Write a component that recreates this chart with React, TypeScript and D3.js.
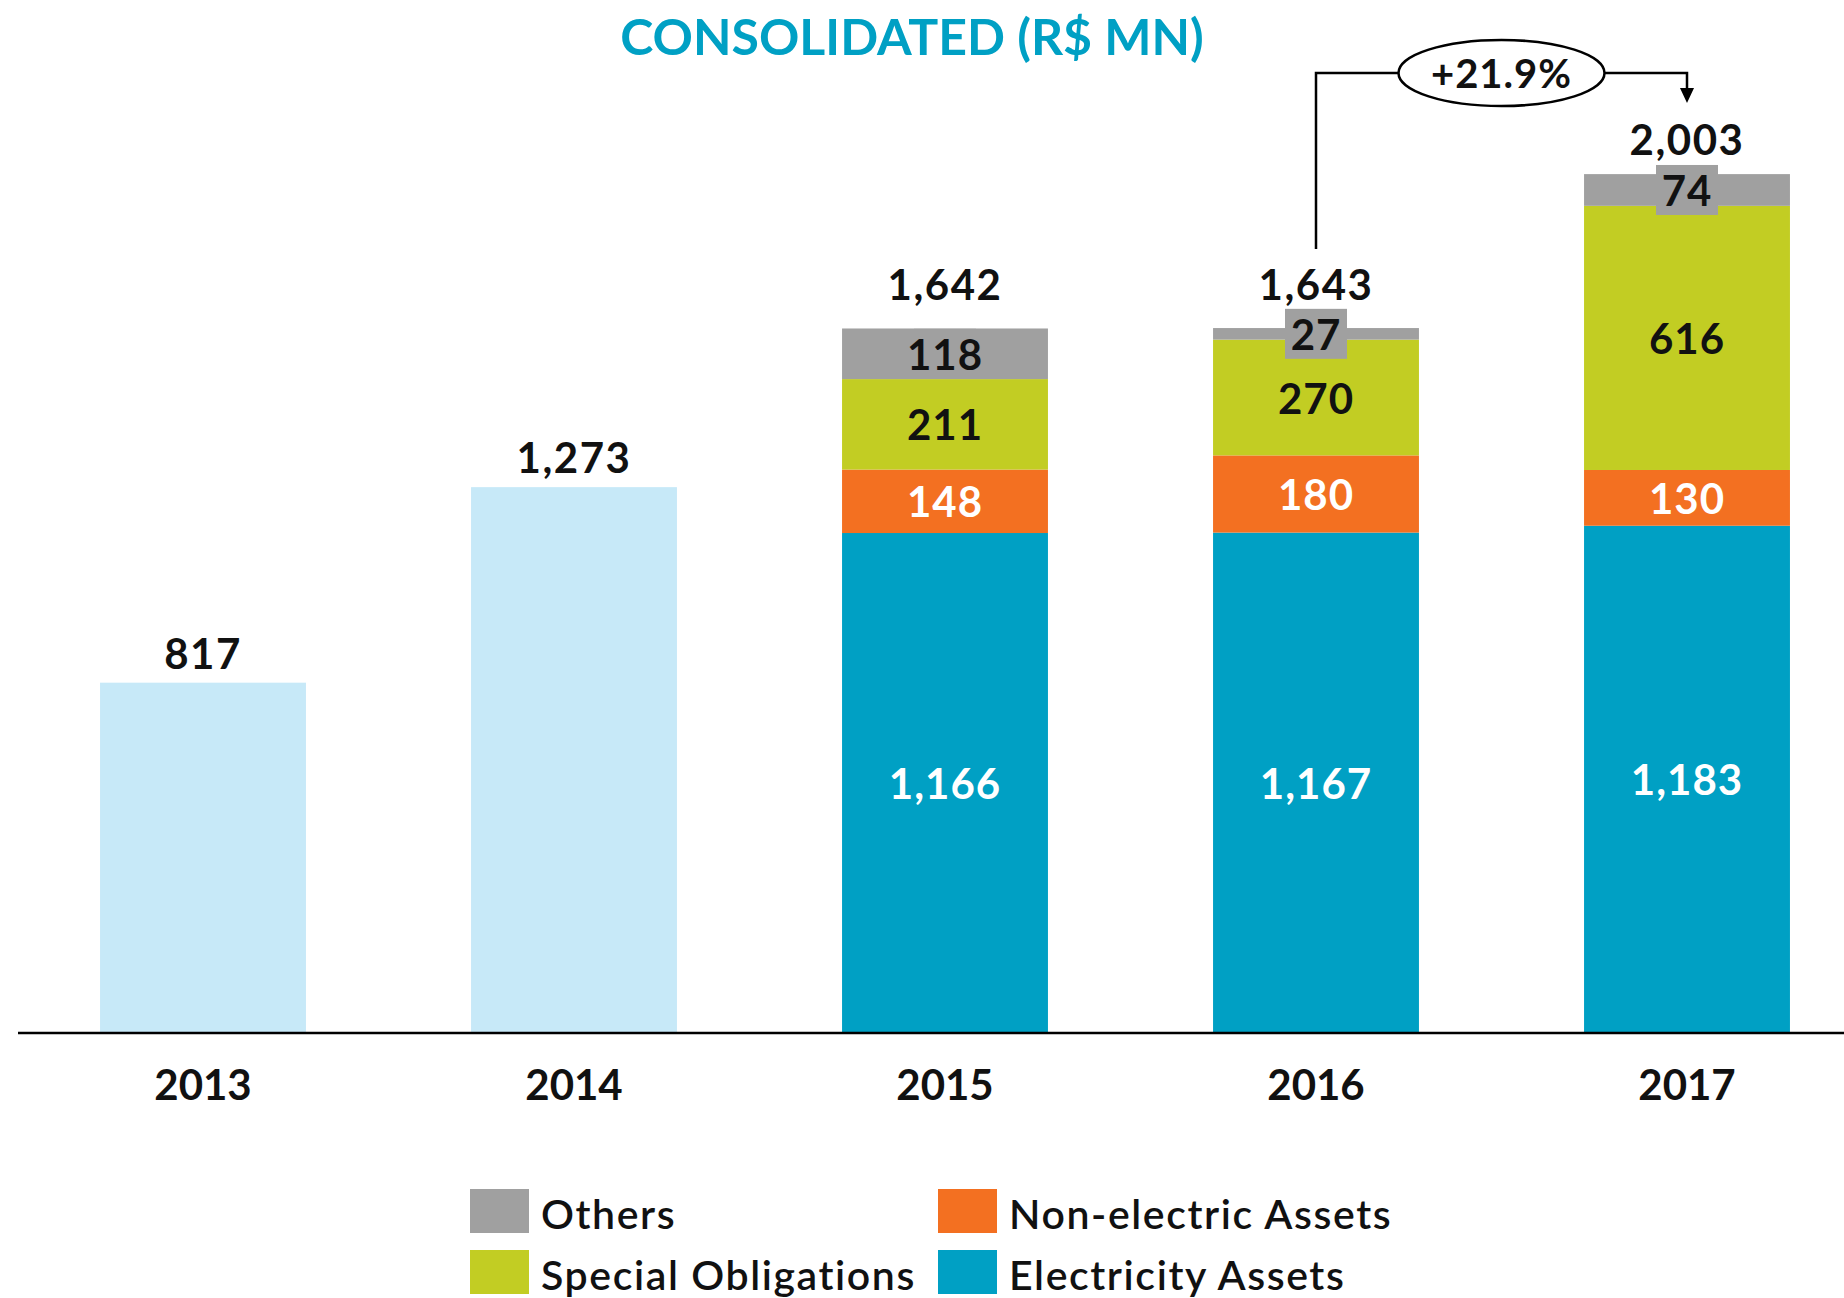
import { useEffect, useRef } from "react"
import * as d3 from "d3"

const years = ["2013", "2014", "2015", "2016", "2017"]
const totals = [817, 1273, 1642, 1643, 2003]
const seriesNames = ["Electricity Assets", "Non-electric Assets", "Special Obligations", "Others"]
const electricity = [0, 0, 1166, 1167, 1183]
const nonElectric = [0, 0, 148, 180, 130]
const specialObligations = [0, 0, 211, 270, 616]
const others = [0, 0, 118, 27, 74]
const growthLabel = "+21.9%"

const W = 1844
const H = 1298
const FONT = "Lato, 'Open Sans', sans-serif"

const colors: Record<string, string> = {
  "Electricity Assets": "#00A0C4",
  "Non-electric Assets": "#F37021",
  "Special Obligations": "#C2CD23",
  Others: "#A0A0A0",
}
const labelColors: Record<string, string> = {
  "Electricity Assets": "#ffffff",
  "Non-electric Assets": "#ffffff",
  "Special Obligations": "#111111",
  Others: "#111111",
}

export default function App() {
  const svgRef = useRef<SVGSVGElement>(null)

  useEffect(() => {
    if (!svgRef.current) return
    const svg = d3.select(svgRef.current)
    svg.selectAll("*").remove()

    const baseY = 1033
    const x = d3.scaleBand<string>().domain(years).range([17.5, 1872.5]).paddingInner(0.445).paddingOuter(0.2225)
    const y = d3.scaleLinear().domain([0, 2000]).range([baseY, baseY - 2000 * 0.4288])
    const cx = (yr: string) => (x(yr) ?? 0) + x.bandwidth() / 2

    // * Title
    svg
      .append("text")
      .attr("x", 912)
      .attr("y", 55)
      .attr("text-anchor", "middle")
      .attr("font-family", FONT)
      .attr("font-size", "50px")
      .attr("font-weight", "700")
      .attr("fill", "#00A0C4")
      .text("CONSOLIDATED (R$ MN)")

    const seriesValues = [electricity, nonElectric, specialObligations, others]
    const rows = years.map((yr, i) => {
      const row: Record<string, number | string> = { year: yr }
      seriesNames.forEach((s, k) => (row[s] = seriesValues[k][i]))
      return row
    })
    const stacked = d3.stack<Record<string, number | string>>().keys(seriesNames)(rows)

    const g = svg.append("g")

    // * Plain bars (no breakdown)
    years.forEach((yr, i) => {
      if (electricity[i] > 0) return
      g.append("rect")
        .attr("x", x(yr) ?? 0)
        .attr("y", y(totals[i]))
        .attr("width", x.bandwidth())
        .attr("height", baseY - y(totals[i]))
        .attr("fill", "#C7E9F8")
    })

    // * Stacked segments
    stacked.forEach((layer) => {
      layer.forEach((d, i) => {
        const v = d[1] - d[0]
        if (v <= 0) return
        g.append("rect")
          .attr("x", x(years[i]) ?? 0)
          .attr("y", y(d[1]))
          .attr("width", x.bandwidth())
          .attr("height", y(d[0]) - y(d[1]))
          .attr("fill", colors[layer.key])
      })
    })

    // * Segment labels
    stacked.forEach((layer) => {
      layer.forEach((d, i) => {
        const v = d[1] - d[0]
        if (v <= 0) return
        const my = (y(d[0]) + y(d[1])) / 2
        if (layer.key === "Others") {
          g.append("rect")
            .attr("x", cx(years[i]) - 31)
            .attr("y", my - 25)
            .attr("width", 62)
            .attr("height", 50)
            .attr("fill", colors.Others)
        }
        g.append("text")
          .attr("x", cx(years[i]))
          .attr("y", my)
          .attr("text-anchor", "middle")
          .attr("dominant-baseline", "central")
          .attr("font-family", FONT)
          .attr("font-size", "42px")
          .attr("font-weight", "700")
          .attr("letter-spacing", "1px")
          .attr("fill", labelColors[layer.key])
          .text(d3.format(",")(v))
      })
    })

    // * Total labels
    years.forEach((yr, i) => {
      const stackedBar = electricity[i] > 0
      const top = y(d3.sum(seriesValues, (s) => s[i]) || totals[i])
      const off = !stackedBar ? 14 : others[i] > 60 && others[i] < 100 ? 19 : 28
      g.append("text")
        .attr("x", cx(yr))
        .attr("y", top - off)
        .attr("text-anchor", "middle")
        .attr("font-family", FONT)
        .attr("font-size", "42px")
        .attr("font-weight", "700")
        .attr("letter-spacing", "1.5px")
        .attr("fill", "#111111")
        .text(d3.format(",")(totals[i]))
    })

    // * Baseline
    svg
      .append("line")
      .attr("x1", 18)
      .attr("x2", W)
      .attr("y1", baseY)
      .attr("y2", baseY)
      .attr("stroke", "#000")
      .attr("stroke-width", 2.5)

    // * Year labels
    years.forEach((yr) => {
      svg
        .append("text")
        .attr("x", cx(yr))
        .attr("y", 1100)
        .attr("text-anchor", "middle")
        .attr("font-family", FONT)
        .attr("font-size", "42px")
        .attr("font-weight", "700")
        .attr("fill", "#111111")
        .text(yr)
    })

    // * Growth annotation 2016 -> 2017
    const xa = cx("2016")
    const xb = cx("2017")
    const ly = 73
    const ex = (xa + xb) / 2
    const rx = 103
    const ry = 33
    const ann = svg.append("g").attr("stroke", "#000").attr("stroke-width", 2.5).attr("fill", "none")
    ann.append("path").attr("d", `M${xa},249 V${ly} H${ex - rx}`)
    ann.append("path").attr("d", `M${ex + rx},${ly} H${xb} V${89}`)
    svg
      .append("path")
      .attr("d", `M${xb - 7},${88} L${xb + 7},${88} L${xb},${103} Z`)
      .attr("fill", "#000")
    ann.append("ellipse").attr("cx", ex).attr("cy", ly).attr("rx", rx).attr("ry", ry).attr("fill", "#fff")
    svg
      .append("text")
      .attr("x", ex)
      .attr("y", ly)
      .attr("text-anchor", "middle")
      .attr("dominant-baseline", "central")
      .attr("font-family", FONT)
      .attr("font-size", "40px")
      .attr("font-weight", "700")
      .attr("letter-spacing", "1px")
      .attr("fill", "#111111")
      .text(growthLabel)

    // * Legend
    const legendItems = [
      { name: "Others", col: 0, row: 0 },
      { name: "Non-electric Assets", col: 1, row: 0 },
      { name: "Special Obligations", col: 0, row: 1 },
      { name: "Electricity Assets", col: 1, row: 1 },
    ]
    const legend = svg.append("g")
    legendItems.forEach((it) => {
      const lx = it.col === 0 ? 470 : 938
      const lyy = it.row === 0 ? 1189 : 1250
      legend.append("rect").attr("x", lx).attr("y", lyy).attr("width", 59).attr("height", 44).attr("fill", colors[it.name])
      legend
        .append("text")
        .attr("x", lx + 71)
        .attr("y", lyy + 24)
        .attr("dominant-baseline", "central")
        .attr("font-family", FONT)
        .attr("font-size", "41px")
        .attr("font-weight", "600")
        .attr("letter-spacing", "1.6px")
        .attr("fill", "#111111")
        .text(it.name)
    })
  }, [])

  return (
    <div style={{ position: "absolute", left: 0, top: 0 }}>
      <svg ref={svgRef} width={W} height={H} style={{ display: "block", background: "#fff" }}></svg>
    </div>
  )
}
